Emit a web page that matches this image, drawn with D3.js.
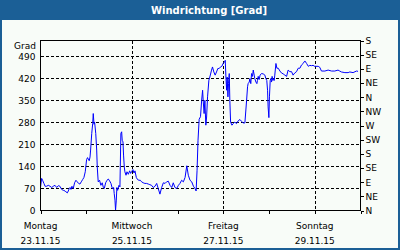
<!DOCTYPE html>
<html>
<head>
<meta charset="utf-8">
<script src="https://cdn.jsdelivr.net/npm/d3@7"></script>
<style>
  body { margin: 0; background: #fff; }
  svg { display: block; }
  text { font-family: "DejaVu Sans", sans-serif; font-size: 9px; fill: #000; }
  .title { font-weight: bold; font-size: 10px; fill: #fff; }
</style>
</head>
<body>
<div id="chart"></div>
<script>
// hours after Mo 23.11.15 00:00 and wind direction in degrees
const hours = [0,0.6,1.1,1.8,2.4,3.2,4.1,5,5.9,6.7,7.6,8.5,9.4,10.2,11.1,12,12.9,13.4,14.1,14.6,15.1,15.5,16,16.5,17.2,17.9,18.6,19.3,20,20.7,21.4,22.1,22.8,23.5,24.2,24.7,25.3,25.6,26,26.3,26.9,27.4,27.7,28.1,28.4,29,29.5,29.8,30.3,31,31.7,32.4,33,33.5,34.2,34.9,35.6,36.3,37,37.7,38.4,38.7,39.1,39.4,39.8,40.1,40.5,41.2,41.7,42.2,42.6,42.9,43.3,43.6,44,44.3,44.9,45.4,46.1,46.8,47.3,47.8,48.5,49.1,49.6,50.3,51,51.7,52.4,53.1,53.9,54.8,55.7,56.6,57.4,58.3,59.2,60.1,61,61.8,62.7,63.6,64.5,65.4,66.2,67.1,68,68.9,69.7,70.6,71.5,72.4,73.2,74.1,75,75.9,76.8,77.6,78.5,79.4,80.3,81.1,81.7,82.2,82.7,83.3,84,84.6,85.1,85.4,85.9,86.3,86.8,87.2,87.7,88.4,88.9,89.8,90.3,91,91.7,92.4,93.1,93.8,94.5,95.2,95.9,96.6,97,97.3,97.7,98,98.4,98.7,99.1,99.4,99.8,100.5,101.2,102,102.9,103.8,104.7,105.6,106.4,107.3,108.2,108.7,109,109.6,109.9,110.4,110.8,111.3,111.7,112.2,112.5,113.1,113.6,113.9,114.3,114.8,115.3,116,116.9,117.8,118.3,118.8,119.2,119.5,119.9,120.2,120.6,120.9,121.3,121.6,122,122.3,122.7,123,123.6,124.1,124.8,125.7,126.5,127.4,128.3,129.2,130,130.9,131.8,132.6,133.5,134.4,135.3,136.2,137,137.9,138.4,138.8,139.7,140.6,141.4,142.3,143.1,144,145.8,146.6,147.5,149.3,151,152.8,154.5,156.2,157.1,158,159.8,161.5,162.4,164.1,165.9,166.7]
const richtung = [73,102,96,86,77,77,80,77,73,77,80,73,79,77,67,64,62,59,56,62,70,73,67,77,70,88,96,91,86,84,91,98,105,123,162,168,160,158,170,192,245,276,308,274,281,245,192,138,91,96,80,88,73,70,88,96,100,94,86,70,73,54,33,1,33,73,64,80,75,245,250,223,218,176,138,123,112,123,115,126,118,123,130,119,126,105,98,96,96,91,88,86,86,84,82,80,73,77,86,70,52,73,88,86,91,93,80,73,88,73,70,80,86,96,91,105,142,112,96,91,77,70,62,128,223,290,298,350,382,350,308,350,271,297,361,414,424,446,456,440,430,440,451,451,456,458,467,472,477,430,382,424,361,403,435,350,281,271,276,281,276,285,289,283,278,278,350,393,403,408,419,403,435,426,446,430,419,408,403,413,426,416,430,435,434,430,419,413,382,329,295,361,413,419,408,426,413,419,413,430,467,452,452,443,437,434,430,426,446,441,441,430,437,441,452,452,462,467,472,475,467,458,461,460,461,458,458,455,443,443,446,443,443,446,443,440,438,438,440,438,443,442]

const dayNames = ["Montag", "Mittwoch", "Freitag", "Sonntag"]
const dayDates = ["23.11.15", "25.11.15", "27.11.15", "29.11.15"]
const gradTicks = [0, 70, 140, 210, 280, 350, 420, 490]
const compassTicks = [0, 45, 90, 135, 180, 225, 270, 315, 360, 405, 450, 495, 540]
const compassLabels = ["N", "NE", "E", "SE", "S", "SW", "W", "NW", "N", "NE", "E", "SE", "S"]

const width = 400, height = 250
const start = new Date(2015, 10, 23), end = new Date(2015, 10, 30)

const svg = d3.select("#chart").append("svg")
    .attr("width", width)
    .attr("height", height)

// panel + frame
svg.append("rect").attr("width", width).attr("height", height).attr("fill", "#1b5f96")
svg.append("rect").attr("x", 2).attr("y", 20).attr("width", width - 4).attr("height", height - 22)
    .attr("fill", "#f8fcf8")
svg.append("text").attr("class", "title").attr("x", 209).attr("y", 14)
    .attr("text-anchor", "middle").text("Windrichtung [Grad]")

// scales
const x = d3.scaleTime().domain([start, end]).range([40.5, 360.5])
const y = d3.scaleLinear().domain([0, 540]).range([210.5, 40.5])

const days = d3.timeDay.range(start, d3.timeDay.offset(end, 1))
const labelDays = days.filter((d, i) => i % 2 == 0 && i < 7)

// dashed grid
svg.append("g").selectAll("line")
    .data(gradTicks.slice(1))
    .join("line")
    .attr("x1", 40.5).attr("x2", 360.5)
    .attr("y1", d => Math.round(y(d)) + 0.5).attr("y2", d => Math.round(y(d)) + 0.5)
    .attr("stroke", "#000").attr("stroke-dasharray", "3,2")
    .style("shape-rendering", "crispEdges")

svg.append("g").selectAll("line")
    .data(labelDays.slice(1))
    .join("line")
    .attr("x1", d => Math.round(x(d)) + 0.5).attr("x2", d => Math.round(x(d)) + 0.5)
    .attr("y1", 40.5).attr("y2", 210.5)
    .attr("stroke", "#000").attr("stroke-dasharray", "3,2")
    .style("shape-rendering", "crispEdges")

// series
const line = d3.line()
    .x((d, i) => x(new Date(start.getTime() + hours[i] * 3600e3)))
    .y(d => y(d))

svg.append("path")
    .datum(richtung)
    .attr("d", line)
    .attr("fill", "none")
    .attr("stroke", "#0000ff")
    .attr("stroke-width", 1)

// plot frame
svg.append("rect").attr("x", 40.5).attr("y", 40.5).attr("width", 320).attr("height", 170)
    .attr("fill", "none").attr("stroke", "#000")
    .style("shape-rendering", "crispEdges")

// bottom axis
const xAxis = svg.append("g")
    .attr("transform", "translate(0,210.5)")
    .call(d3.axisBottom(x).tickValues(days.slice(0, 8)).tickSize(3).tickFormat(""))
xAxis.select(".domain").remove()
xAxis.selectAll("line").style("shape-rendering", "crispEdges")

svg.append("g").selectAll("text")
    .data(labelDays)
    .join("text")
    .attr("x", d => x(d)).attr("y", 229)
    .attr("text-anchor", "middle")
    .text((d, i) => dayNames[i])
svg.append("g").selectAll("text")
    .data(labelDays)
    .join("text")
    .attr("x", d => x(d)).attr("y", 244)
    .attr("text-anchor", "middle")
    .text((d, i) => dayDates[i])

// left axis
const yAxis = svg.append("g")
    .attr("transform", "translate(40.5,0)")
    .call(d3.axisLeft(y).tickValues(gradTicks).tickSize(0).tickPadding(5))
yAxis.select(".domain").remove()
yAxis.selectAll("text").style("font-family", null).style("font-size", null)
yAxis.attr("font-family", null).attr("font-size", null)

svg.append("text").attr("x", 36).attr("y", 49).attr("text-anchor", "end").text("Grad")

// right axis
const rAxis = svg.append("g")
    .attr("transform", "translate(360.5,0)")
    .call(d3.axisRight(y).tickValues(compassTicks).tickSize(3).tickPadding(2)
        .tickFormat((d, i) => compassLabels[i]))
rAxis.select(".domain").remove()
rAxis.attr("font-family", null).attr("font-size", null)
rAxis.selectAll("line").style("shape-rendering", "crispEdges")
</script>
</body>
</html>
